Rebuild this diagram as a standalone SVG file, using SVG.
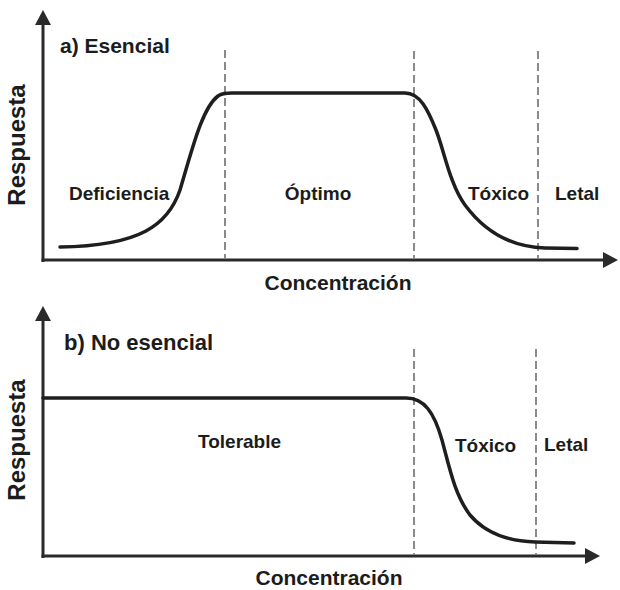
<svg xmlns="http://www.w3.org/2000/svg" width="620" height="590" viewBox="0 0 620 590">
<style>
.ax{stroke:#2a2a2a;stroke-width:3;fill:none}
.dash{stroke:#8a8a8a;stroke-width:2;stroke-dasharray:8 4;fill:none}
.curve{stroke:#1e1e1e;stroke-width:3.5;fill:none;stroke-linecap:round}
text{font-family:"Liberation Sans",Arial,sans-serif;font-weight:bold;fill:#1c1c1c}
</style>
<defs>
<marker id="arr" markerUnits="userSpaceOnUse" markerWidth="15" markerHeight="16" refX="3" refY="8" orient="auto">
<path d="M0,0 L15,8 L0,16 z" fill="#2a2a2a"/>
</marker>
</defs>
<rect width="620" height="590" fill="#ffffff"/>
<g id="connectors">
<line class="ax" x1="43" y1="262" x2="43" y2="22" marker-end="url(#arr)"/>
<line class="ax" x1="41.5" y1="260" x2="606" y2="260" marker-end="url(#arr)"/>
<line class="dash" x1="225" y1="50" x2="225" y2="259"/>
<line class="dash" x1="414" y1="51" x2="414" y2="259"/>
<line class="dash" x1="538" y1="51" x2="538" y2="259"/>
<path class="curve" d="M60,247 C140,246 168,225 180,190 C192,150 202,108 218,96 C222,93 226,93 232,93 L405,93 C420,93 428,110 436,130 C444,150 450,185 465,205 C485,232 510,247 545,248 L577,248.5"/>
<line class="ax" x1="43" y1="558" x2="43" y2="318" marker-end="url(#arr)"/>
<line class="ax" x1="41.5" y1="556" x2="588" y2="556" marker-end="url(#arr)"/>
<line class="dash" x1="414" y1="349" x2="414" y2="555"/>
<line class="dash" x1="536" y1="349" x2="536" y2="555"/>
<path class="curve" d="M43,398 L406,398 C424,398 434,412 442,440 C450,470 455,495 470,515 C487,535 510,541 535,542 L574,543"/>
</g>
<g id="panel-a">
<text x="60" y="53" font-size="21">a) Esencial</text>
<text transform="translate(25,145) rotate(-90)" text-anchor="middle" font-size="24">Respuesta</text>
<text x="69" y="200" font-size="19">Deficiencia</text>
<text x="318" y="200" font-size="19" text-anchor="middle">Óptimo</text>
<text x="468" y="200" font-size="19">Tóxico</text>
<text x="555" y="200" font-size="19">Letal</text>
<text x="338" y="290" font-size="21" text-anchor="middle">Concentración</text>
</g>
<g id="panel-b">
<text x="64" y="350" font-size="22">b) No esencial</text>
<text transform="translate(25,440) rotate(-90)" text-anchor="middle" font-size="24">Respuesta</text>
<text x="198" y="448" font-size="19">Tolerable</text>
<text x="455" y="452" font-size="19">Tóxico</text>
<text x="544" y="451" font-size="19">Letal</text>
<text x="329" y="585" font-size="21" text-anchor="middle">Concentración</text>
</g>
</svg>
